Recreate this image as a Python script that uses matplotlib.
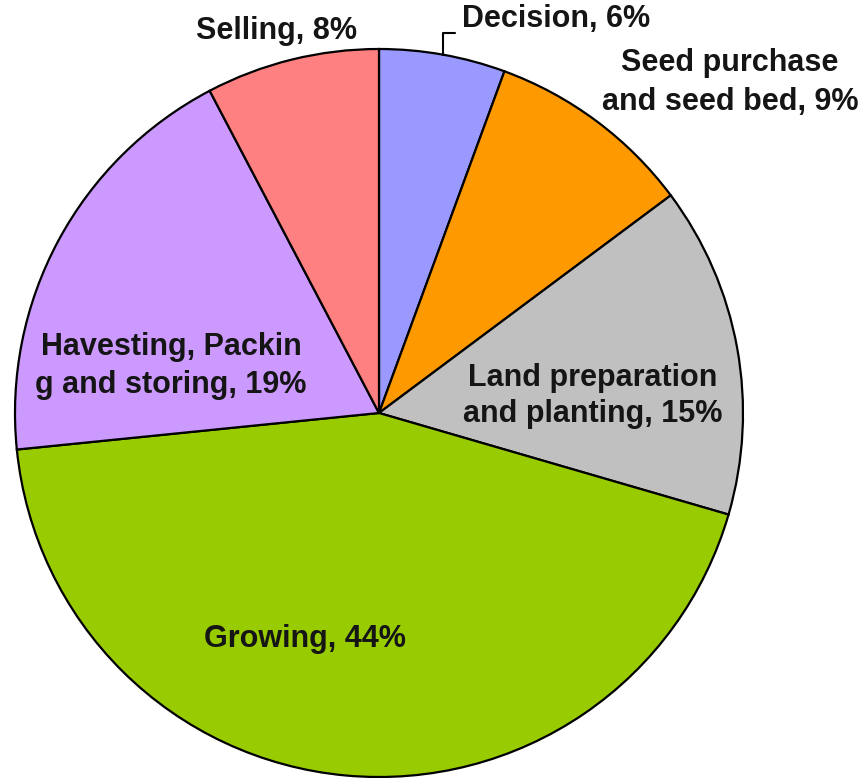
import numpy as np
import matplotlib.pyplot as plt

# slices, clockwise from 12 o'clock
stages = ["Decision", "Seed purchase", "Land preparation", "Growing", "Havesting", "Selling"]
shares = [5.6, 9.2, 14.7, 43.9, 18.9, 7.7]
labels = [
    "Decision, 6%",
    "Seed purchase\nand seed bed, 9%",
    "Land preparation\nand planting, 15%",
    "Growing, 44%",
    "Havesting, Packin\ng and storing, 19%",
    "Selling, 8%",
]
colors = ["#9999FF", "#FF9900", "#C0C0C0", "#99CC00", "#CC99FF", "#FF8080"]

W, H = 866, 778

def img_y(y):
    # picture rows run downwards, data y runs upwards
    return H - y

plt.rcParams['font.family'] = ['Liberation Sans', 'DejaVu Sans']

fig = plt.figure(figsize=(W / 100, H / 100), dpi=100)
ax = fig.add_axes([0, 0, 1, 1])

cx, cy, r = 379, img_y(413), 364
wedges, _ = ax.pie(shares, colors=colors, startangle=90, counterclock=False,
                   center=(cx, cy), radius=r,
                   wedgeprops=dict(edgecolor="black", linewidth=1.6))

ax.set_xlim(0, W)
ax.set_ylim(0, H)
ax.set_aspect("equal")
ax.axis("off")

txt = dict(fontsize=22, fontweight="bold", color="#151515")

# label positions (picture pixels, baseline of the last line)
ax.text(730, img_y(110), labels[1], ha="center", va="baseline", linespacing=1.4, **txt)
ax.text(593, img_y(422), labels[2], ha="center", va="baseline", linespacing=1.28, **txt)
ax.text(305, img_y(647), labels[3], ha="center", va="baseline", **txt)
ax.text(171, img_y(393), labels[4], ha="center", va="baseline", linespacing=1.33, **txt)
ax.text(277, img_y(39), labels[5], ha="center", va="baseline", **txt)

# decision label sits outside with a leader from the middle of its wedge edge
w = wedges[0]
mid = np.deg2rad((w.theta1 + w.theta2) / 2)
edge = (cx + r * np.cos(mid), cy + r * np.sin(mid))
ax.annotate(labels[0], xy=edge, xytext=(462, img_y(27)),
            ha="left", va="baseline", **txt,
            arrowprops=dict(arrowstyle="-", color="black", lw=1.5,
                            connectionstyle="angle,angleA=0,angleB=90,rad=0",
                            relpos=(0, 0.05), shrinkA=3, shrinkB=0))

fig.savefig("out.png", dpi=100)
